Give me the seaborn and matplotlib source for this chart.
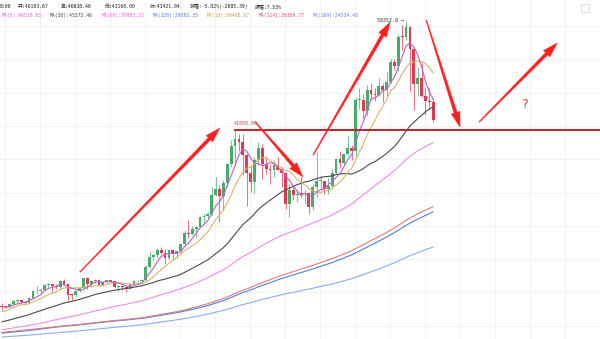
import numpy as np
import pandas as pd
import matplotlib
matplotlib.use("Agg")
import matplotlib.pyplot as plt
from matplotlib.patches import Polygon, Rectangle
import seaborn as sns

# ---- daily closes before the plotted window (seed the moving averages) ----
hist_2020_05 = [8720, 8900, 8840, 9200, 9575, 9430, 9700, 9450]
hist_2020_06 = [10200, 9520, 9670, 9790, 9620, 9670, 9750, 9780, 9770, 9880,
                9270, 9470, 9480, 9330, 9430, 9520, 9460, 9380, 9290, 9350,
                9290, 9680, 9620, 9290, 9250, 9160, 9010, 9110, 9190, 9140]
hist_2020_07 = [9230, 9090, 9060, 9130, 9080, 9340, 9250, 9430, 9230, 9290,
                9240, 9300, 9240, 9260, 9200, 9130, 9150, 9170, 9210, 9160,
                9390, 9520, 9580, 9540, 9700, 9930, 11030, 10910, 11100, 11110, 11350]
hist_2020_08 = [11800, 11070, 11230, 11190, 11740, 11760, 11600, 11750, 11680, 11880,
                11400, 11580, 11780, 11770, 11860, 11910, 12280, 11950, 11760, 11860,
                11520, 11680, 11650, 11750, 11320, 11460, 11330, 11530, 11470, 11710, 11650]
hist_2020_09 = [11920, 11390, 10170, 10470, 10170, 10260, 10380, 10130, 10230, 10340,
                10390, 10440, 10330, 10680, 10790, 10950, 10940, 10930, 11080, 10920,
                10420, 10530, 10240, 10740, 10690, 10730, 10770, 10690, 10840, 10780]
hist_2020_10 = [10620, 10570, 10550, 10670, 10790, 10600, 10670, 10920, 11050, 11300,
                11370, 11540, 11420, 11430, 11500, 11320, 11360, 11500, 11750, 11910,
                12820, 12970, 12930, 13120, 13030, 13070, 13650, 13280, 13460, 13560, 13800]
hist_2020_11 = [13760, 13550, 14030, 14150, 15590, 15590, 14840, 15480]

# ---- plotted candles: 2020-11-09 .. 2021-02-28 ----
first_open = 15479
closes_nov = [15332, 15290, 15701, 16276, 16317, 16069, 15957, 16713, 17659, 17777, 17804,
              18655, 18703, 18414, 18368, 19160, 18719, 17150, 17139, 17719, 18184, 19695]
highs_nov = [15850, 15464, 15965, 16340, 16480, 16327, 16138, 16880, 17858, 18477, 18180,
             18815, 18965, 18750, 18766, 19418, 19484, 18915, 17457, 17880, 18360, 19749]
lows_nov = [14805, 15100, 15280, 15430, 15952, 15700, 15765, 15870, 16528, 17214, 17335,
            17740, 18308, 17610, 18000, 18018, 18565, 16188, 16438, 16865, 17517, 18178]

closes_dec = [18765, 19205, 19422, 18650, 19147, 19359, 19167, 18324, 18541, 18254,
              18036, 18808, 19175, 19273, 19426, 21335, 22797, 23107, 23821, 23455,
              22719, 23810, 23232, 23729, 24712, 26493, 26281, 27079, 27385, 28875, 28923]
highs_dec = [19888, 19342, 19566, 19527, 19177, 19420, 19400, 19294, 18639, 18557,
             18292, 18948, 19411, 19349, 19570, 21560, 23800, 23285, 24171, 24295,
             24102, 23837, 24100, 23794, 24789, 26867, 28422, 27500, 27410, 28996, 29300]
lows_dec = [18001, 18330, 18925, 18565, 18500, 18857, 18903, 18200, 17650, 17911,
            17572, 18020, 18711, 19000, 19050, 19278, 21230, 22350, 22750, 23060,
            21815, 22353, 22600, 22703, 23433, 24500, 25700, 26101, 25880, 27320, 27850]

closes_jan = [29331, 32178, 33000, 31988, 33949, 36769, 39432, 40582, 40088, 38150,
              35404, 34051, 37371, 39144, 36742, 35994, 35828, 36631, 35891, 35468,
              30850, 32945, 32078, 32259, 32254, 32467, 30366, 33364, 34252, 34262, 33092]
highs_jan = [29600, 33300, 34778, 33600, 34360, 36939, 40365, 41950, 41380, 41350,
             38264, 36628, 37850, 40100, 39747, 37950, 36852, 37469, 37850, 36415,
             35600, 33826, 33456, 32944, 34875, 32921, 32557, 33783, 38531, 34934, 34288]
lows_jan = [28624, 28946, 31963, 28130, 29900, 33288, 36300, 36500, 38720, 35111,
            30420, 32531, 32380, 36701, 34538, 35357, 33850, 34800, 35844, 33400,
            30071, 28850, 31390, 31106, 31910, 30837, 29241, 29842, 31915, 32825, 32270]

closes_feb = [33526, 35466, 37618, 36936, 38290, 39186, 38795, 46374, 46420, 44807,
              47969, 47287, 47153, 48577, 47911, 49133, 52119, 51552, 55906, 55841,
              57408, 54087, 48891, 49676, 47073, 46276, 46106, 43421.04]
highs_feb = [34717, 35984, 37662, 38708, 38310, 40955, 39700, 46794, 48142, 47310,
             48678, 48985, 48150, 49707, 49010, 50600, 52618, 52530, 56368, 57700,
             58352.8, 57533, 54183, 51374, 52041, 48370, 48424, 46638.46]
lows_feb = [32297, 33418, 35362, 36161, 36570, 38215, 37351, 37988, 45020, 43727,
            43994, 46400, 46203, 47014, 46174, 47003, 48947, 50901, 50710, 53863,
            55477, 47622, 44892, 47003, 46800, 44106, 45000, 43160.00]

ma_periods = [169, 120, 114, 60, 30, 10, 5]
ma_colors = {169: "#86aef2", 120: "#4f7fe0", 114: "#e27a7a", 60: "#ee8ced",
             30: "#4a4a4a", 10: "#d9b46a", 5: "#bf5fc0"}

resistance = 41950.00
peak = 58352.8

header_top = [("8:00", 0), ("开:46103.67", 18), ("高:46638.46", 61), ("低:43160.00", 105),
              ("收:43421.04", 150), ("涨幅:-5.82%(-2685.39)", 190), ("振幅:7.53%", 255)]
header_ma = [("MA(5):46510.85", 2, "#d26ad2"), ("MA(30):45372.46", 50, "#444444"),
             ("MA(60):39982.25", 102, "#e466e4"), ("MA(120):29592.35", 153, "#4a7fe0"),
             ("MA(10):50468.87", 207, "#c9a33a"), ("MA(114):30389.77", 259, "#e0506e"),
             ("MA(169):24334.40", 313, "#5a88e2")]

# trend arrows (day index, price) -> (day index, price)
arrows = [((20.1, 20578), (56.1, 42207)),
          ((65.2, 43108), (77.5, 34847)),
          ((80.1, 38152), (99.9, 58128)),
          ((109.2, 58428), (117.9, 42357)),
          ((122.8, 43108), (142.9, 54974))]
question_pos = (134.4, 45800)

# ---------------------------------------------------------------------------
closes = np.array(closes_nov + closes_dec + closes_jan + closes_feb, dtype=float)
highs = np.array(highs_nov + highs_dec + highs_jan + highs_feb, dtype=float)
lows = np.array(lows_nov + lows_dec + lows_jan + lows_feb, dtype=float)
opens = np.concatenate([[first_open], closes[:-1]])
n = len(closes)
idx = np.arange(n)

history = (hist_2020_05 + hist_2020_06 + hist_2020_07 + hist_2020_08 +
           hist_2020_09 + hist_2020_10 + hist_2020_11)
all_closes = pd.Series(history + list(closes))
ma_frames = []
for p in ma_periods:
    vals = all_closes.rolling(p).mean().to_numpy()[-n:]
    ma_frames.append(pd.DataFrame({"day": idx, "value": vals, "ma": f"MA{p}"}))
ma_df = pd.concat(ma_frames, ignore_index=True)

sns.set_style("white")
plt.rcParams["font.family"] = ["DejaVu Sans Mono", "Noto Sans CJK SC"]

W, H = 600, 339
fig = plt.figure(figsize=(W / 100, H / 100), dpi=100)
ax = fig.add_axes([0, 0, 1, 1])
ax.set_xlim(-0.47, 153.9)
ax.set_ylim(10515, 61433)

# faint grid
ax.set_xticks(np.arange(0.8, 154, 9.0))
ax.set_yticks(np.arange(12500, 61000, 5000))
ax.grid(True, color="#f0f0f0", lw=0.6)
ax.tick_params(left=False, bottom=False, labelleft=False, labelbottom=False)
for s in ax.spines.values():
    s.set_visible(False)

up = closes >= opens
colors = np.where(up, "#47ab6c", "#dc3b52")
wick_colors = np.where(up, "#7cc49a", "#e57a8a")
ax.vlines(idx, lows, highs, colors=wick_colors, lw=0.8, zorder=2)
body_lo = np.minimum(opens, closes)
body_h = np.maximum(np.abs(closes - opens), 120)
ax.bar(idx, body_h, bottom=body_lo, width=0.72, color=colors, lw=0, zorder=3)

sns.lineplot(data=ma_df, x="day", y="value", hue="ma",
             palette={f"MA{p}": c for p, c in ma_colors.items()},
             linewidth=0.8, legend=False, ax=ax, zorder=4)
ax.set_xlabel("")
ax.set_ylabel("")

# resistance line and price labels
ax.hlines(resistance, 60 - 0.3, 153.9, color="#c0202c", lw=1.4, zorder=5)
ax.annotate(f"{resistance:.2f}", xy=(60, resistance), xytext=(-1, 4),
            textcoords="offset pixels", ha="left", va="bottom",
            fontsize=3.6, color="#d04848", zorder=6)
ax.annotate(f"{peak:.1f} →", xy=(104, peak), xytext=(-2, 0),
            textcoords="offset pixels", ha="right", va="center",
            fontsize=3.6, color="#333333", zorder=6)


def tapered_arrow(tail, head, w0=0.8, w1=3.2, hl=15, hw=9, color="#ff1f1f"):
    t = ax.transData.transform(tail)
    h = ax.transData.transform(head)
    d = h - t
    u = d / np.hypot(*d)
    nv = np.array([-u[1], u[0]])
    b = h - u * hl
    pts = [t + nv * w0 / 2, b + nv * w1 / 2, b + nv * hw / 2, h,
           b - nv * hw / 2, b - nv * w1 / 2, t - nv * w0 / 2]
    fig.patches.append(Polygon(pts, closed=True, transform=None,
                               facecolor=color, edgecolor=color, lw=0.3, zorder=10))


fig.canvas.draw()
for tail, head in arrows:
    tapered_arrow(tail, head)

ax.text(*question_pos, "?", fontsize=9.5, color="#e8454a", ha="center", va="center",
        family="DejaVu Sans", zorder=7)

for txt, x in header_top:
    fig.text(x / W, 1 - 6.5 / H, txt, fontsize=3.5, color="#222222", ha="left", va="center")
for txt, x, c in header_ma:
    fig.text(x / W, 1 - 15 / H, txt, fontsize=3.4, color=c, ha="left", va="center")

# small toolbar icon in the corner
fig.patches.append(Rectangle((581, H - 12), 8, 8, transform=None, fill=False,
                             edgecolor="#d8d8d8", lw=0.6))

fig.savefig("out.png", dpi=100)
